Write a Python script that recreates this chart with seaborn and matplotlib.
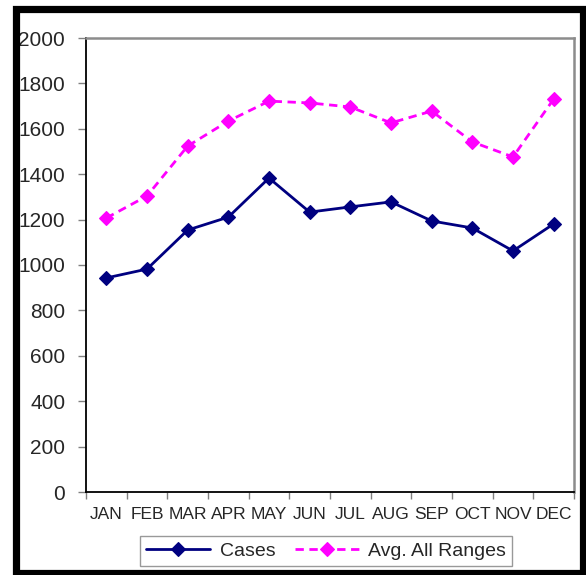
import numpy as np
import pandas as pd
import matplotlib
matplotlib.use("Agg")
import matplotlib.pyplot as plt
from matplotlib.patches import Rectangle
import seaborn as sns

months = ["JAN", "FEB", "MAR", "APR", "MAY", "JUN",
          "JUL", "AUG", "SEP", "OCT", "NOV", "DEC"]
cases = [943, 982, 1154, 1211, 1383, 1233, 1256, 1278, 1194, 1163, 1062, 1181]
avg_all_ranges = [1207, 1304, 1524, 1634, 1722, 1714, 1696, 1626, 1678, 1542, 1476, 1731]
y_ticks = [0, 200, 400, 600, 800, 1000, 1200, 1400, 1600, 1800, 2000]

sns.set_theme(style="white")
plt.rcParams["font.family"] = ["Liberation Sans", "DejaVu Sans"]

df = pd.DataFrame({
    "pos": list(range(len(months))) * 2,
    "value": cases + avg_all_ranges,
    "series": ["Cases"] * len(months) + ["Avg. All Ranges"] * len(months),
})

fig = plt.figure(figsize=(5.86, 5.75), dpi=100)
ax = fig.add_axes([86 / 586, 1 - 492 / 575, (574 - 86) / 586, (492 - 38) / 575])

sns.lineplot(
    data=df, x="pos", y="value", hue="series", style="series",
    palette={"Cases": "#000080", "Avg. All Ranges": "#FF00FF"},
    dashes={"Cases": "", "Avg. All Ranges": (3, 2)},
    markers={"Cases": "D", "Avg. All Ranges": "D"},
    markersize=7.5, markeredgewidth=0.8, linewidth=2.0, sort=False, ax=ax,
)
for line in ax.lines:
    line.set_markeredgecolor(line.get_color())

ax.set_xlim(-0.5, len(months) - 0.5)
ax.set_ylim(0, 2000)
ax.set_yticks(y_ticks)
ax.set_yticklabels([str(t) for t in y_ticks], fontsize=15)
ax.set_xticks(range(len(months)))
ax.set_xticklabels(months, fontsize=12.5)
ax.set_xticks(np.arange(-0.5, len(months)), minor=True)
ax.tick_params(axis="x", which="major", length=0, pad=11)
ax.tick_params(axis="x", which="minor", length=5, width=1, color="#808080", direction="out", bottom=True)
ax.tick_params(axis="y", length=6, width=1, color="#808080", direction="out", left=True, pad=9)
ax.set_xlabel("")
ax.set_ylabel("")

for side in ("left", "bottom"):
    ax.spines[side].set_color("black")
    ax.spines[side].set_linewidth(1.3)
for side in ("top", "right"):
    ax.spines[side].set_color("#8c8c8c")
    ax.spines[side].set_linewidth(1.8)

handles, labels = ax.get_legend_handles_labels()
ax.legend_.remove()
leg = fig.legend(
    handles, labels, loc="center", bbox_to_anchor=(326 / 586, 1 - 551 / 575),
    ncol=2, fontsize=14, frameon=True, fancybox=False, edgecolor="#808080",
    handlelength=3.3, columnspacing=1.0, borderpad=0.3, handletextpad=0.5,
)
leg.get_frame().set_linewidth(1.0)

# Heavy outer frame around the whole chart
fig.patches.append(Rectangle(
    (15.5 / 586, (575 - 572.5) / 575), (582.5 - 15.5) / 586, (572.5 - 8.5) / 575,
    transform=fig.transFigure, fill=False, edgecolor="black", linewidth=5.2, zorder=10,
))

fig.savefig("out.png", dpi=100)
